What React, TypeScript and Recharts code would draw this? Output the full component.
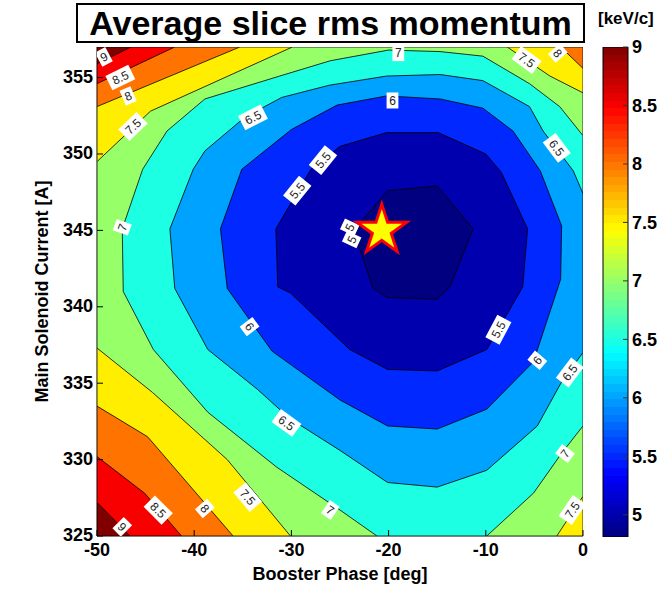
import React from 'react';
import { ComposedChart, Scatter, XAxis, YAxis, BarChart, Bar } from 'recharts';

const W = 666;
const H = 589;

const phaseRange = [-50, 0];
const currentRange = [325, 357];
const colorRange = [4.81, 9];

const phaseTicks = [-50, -40, -30, -20, -10, 0];
const currentTicks = [325, 330, 335, 340, 345, 350, 355];
const colorTicks = [5, 5.5, 6, 6.5, 7, 7.5, 8, 8.5, 9];

// contour levels, outermost first
const levels = [9, 8.5, 8, 7.5, 7, 6.5, 6, 5.5, 5];

// region below each level, [phase, current] vertices
const below9 = [[-50, 355.9], [-46.5, 357], [0, 357], [0, 325], [-46.6, 325], [-50, 327.2]];
const below85 = [[-50, 354.6], [-42, 357], [0, 357], [0, 325], [-41.3, 325], [-45.1, 327.8], [-50, 330.2]];
const below8 = [[-50, 353.1], [-35.3, 357], [-2.3, 357], [0, 355.6], [0, 325], [-36, 325], [-44.8, 331.5], [-50, 333.5]];
const below75 = [
  [-50, 349.5], [-44.5, 352.8], [-29.9, 357], [-7.8, 357], [-3.4, 355.1], [0, 354], [0, 327.6], [-2.7, 325],
  [-30.1, 325], [-36.6, 330], [-44.3, 334.4], [-50, 337.3],
];
const below7 = [
  [-21.2, 325], [-25, 326.7], [-31.5, 329.5], [-38.6, 333.1], [-44.2, 337.2], [-47.3, 341], [-47.4, 345.1],
  [-45.3, 349], [-42.8, 351.5], [-38.9, 353.6], [-31.2, 355.1], [-26, 356.1], [-20, 356.8], [-14.7, 356.7],
  [-10.3, 356.4], [-5.5, 354.6], [-2.4, 353.1], [0, 351.2], [0, 332.2], [-2.1, 330.5], [-5.1, 327.8], [-9.9, 325],
];
const below65 = [
  [0, 347.4], [-1, 348.9], [-4.1, 351.5], [-5.5, 353.1], [-10.3, 354.8], [-14.7, 355.2], [-20.2, 355.1],
  [-26.1, 354.5], [-31, 353.7], [-34.8, 352.4], [-38.9, 350.2], [-40.1, 349], [-42.5, 345.1], [-42, 341.2],
  [-38.6, 337.2], [-33.5, 334.6], [-30.2, 332.7], [-25, 330.6], [-20.1, 328.5], [-15, 328.2], [-9.9, 329.3],
  [-4.7, 332.2], [-2.1, 335.2], [0, 337],
];
const below6 = [
  [-35.1, 349], [-30, 351.6], [-25.3, 353.2], [-20.2, 353.8], [-14.7, 353.6], [-10.3, 353], [-7.2, 351.5],
  [-4.4, 348.9], [-2.2, 345.3], [-2.3, 341.8], [-5.1, 336.4], [-9.9, 333.3], [-15, 332], [-20.1, 332.2],
  [-25, 333.9], [-32, 337.1], [-36.6, 341.2], [-37.3, 345.1],
];
const below55 = [
  [-31.6, 345.1], [-28, 349], [-25, 350.5], [-20.2, 351.4], [-14.9, 351.4], [-10, 350], [-8.4, 348.8],
  [-5.7, 345.1], [-6.2, 341.3], [-9.9, 337.2], [-15, 335.8], [-20.1, 335.9], [-24, 337.2], [-30.1, 340.9],
  [-31.4, 341.3],
];
const below5 = [
  [-20.1, 347.6], [-15, 347.9], [-11.3, 345.1], [-13.7, 341.3], [-15, 340.5], [-20.1, 340.6], [-21.6, 341.2],
  [-23.6, 345],
];
const belowAreas = [below9, below85, below8, below75, below7, below65, below6, below55, below5];

// inline contour labels: [phase, current, level, angle]
const contourLabels = [
  [-49.3, 356.35, 9, -28], [-47.6, 355.0, 8.5, -26], [-46.8, 353.8, 8, -23], [-46.3, 351.8, 7.5, -44],
  [-33.95, 352.4, 6.5, -27], [-19.0, 356.6, 7, 0], [-19.6, 353.5, 6, 0], [-5.8, 356.15, 7.5, 36],
  [-2.6, 356.6, 8, 49], [-2.7, 350.4, 6.5, 53], [-26.75, 349.6, 5.5, -51], [-29.4, 347.6, 5.5, -51],
  [-24.0, 345.2, 5, -65], [-23.8, 344.4, 5, -65], [-47.4, 345.2, 7, -70], [-34.3, 338.7, 6, 53],
  [-30.5, 332.4, 6.5, 36], [-34.5, 327.55, 7.5, 50], [-38.9, 326.8, 8, 49], [-43.7, 326.7, 8.5, 45],
  [-47.4, 325.6, 9, 45], [-26.0, 326.7, 7, 34], [-8.7, 338.5, 5.5, -62], [-4.7, 336.5, 6, -50],
  [-1.35, 335.7, 6.5, -53], [-1.85, 330.4, 7, -53], [-1.1, 326.7, 7.5, -56],
];

// best working point
const optimum = [{ x: -20.7, y: 345.0 }];

const clamp01 = (v: number) => Math.max(0, Math.min(1, v));
const jet = (value: number) => {
  const t = clamp01((value - colorRange[0]) / (colorRange[1] - colorRange[0]));
  const r = clamp01(1.5 - Math.abs(4 * t - 3));
  const g = clamp01(1.5 - Math.abs(4 * t - 2));
  const b = clamp01(1.5 - Math.abs(4 * t - 1));
  return `rgb(${Math.round(r * 255)},${Math.round(g * 255)},${Math.round(b * 255)})`;
};

const font = "'Liberation Sans', Arial, Helvetica, sans-serif";
const tickStyle = { fontFamily: font, fontSize: 18, fontWeight: 700, fill: '#000' };

const toXY = (pts: number[][]) => pts.map(([x, y]) => ({ x, y }));
const plotFrame = toXY([[phaseRange[0], currentRange[0]], [phaseRange[0], currentRange[1]], [phaseRange[1], currentRange[1]], [phaseRange[1], currentRange[0]]]);

const fillArea = (color: string) => (props: any) => (
  <polygon
    points={props.points.map((p: any) => `${p.x},${p.y}`).join(' ')}
    fill={color}
    stroke="#000"
    strokeWidth={0.8}
    strokeLinejoin="round"
  />
);
const noDot = () => <g />;

const ContourLabel = (props: any) => {
  const { cx, cy, payload } = props;
  const text = String(payload.level);
  const w = text.length * 6.8 + 5;
  return (
    <g transform={`translate(${cx},${cy}) rotate(${payload.angle})`}>
      <rect x={-w / 2} y={-8} width={w} height={16} fill="#fff" />
      <text x={0} y={0} dy="0.36em" textAnchor="middle" fontSize={12} fontFamily={font} fill="#222">
        {text}
      </text>
    </g>
  );
};

const Star = (props: any) => {
  const { cx, cy } = props;
  const R = 26;
  const r = R * 0.382;
  const pts = [];
  for (let i = 0; i < 10; i++) {
    const a = -Math.PI / 2 + (i * Math.PI) / 5;
    const rad = i % 2 === 0 ? R : r;
    pts.push(`${cx + rad * Math.cos(a)},${cy + rad * Math.sin(a)}`);
  }
  return <polygon points={pts.join(' ')} fill="#ffff00" stroke="#ff0000" strokeWidth={3} strokeLinejoin="miter" />;
};

const BottomTick = ({ x, y, payload }: any) => (
  <g>
    <line x1={x} y1={y} x2={x} y2={y - 6} stroke="#000" />
    <text x={x} y={y + 20} textAnchor="middle" style={tickStyle}>{payload.value}</text>
  </g>
);
const TopTick = ({ x, y }: any) => <line x1={x} y1={y} x2={x} y2={y + 6} stroke="#000" />;
const LeftTick = ({ x, y, payload }: any) => (
  <g>
    <line x1={x} y1={y} x2={x + 6} y2={y} stroke="#000" />
    <text x={x - 4} y={y} dy="0.3em" textAnchor="end" style={tickStyle}>{payload.value}</text>
  </g>
);
const RightTick = ({ x, y }: any) => <line x1={x} y1={y} x2={x - 6} y2={y} stroke="#000" />;

const BarRightTick = ({ x, y, payload }: any) => (
  <g>
    <line x1={x} y1={y} x2={x - 5} y2={y} stroke="#333" />
    <text x={x + 4} y={y} dy="0.36em" textAnchor="start" style={tickStyle}>{payload.value}</text>
  </g>
);
const BarLeftTick = ({ x, y }: any) => <line x1={x} y1={y} x2={x + 5} y2={y} stroke="#333" />;

const colorBar = [{ name: 'scale', span: colorRange }];
const STEPS = 64;
const jetStops = Array.from({ length: STEPS }, (_, i) => {
  const c = jet(colorRange[0] + ((i + 0.5) / STEPS) * (colorRange[1] - colorRange[0]));
  return [
    <stop key={`a${i}`} offset={`${(i / STEPS) * 100}%`} stopColor={c} />,
    <stop key={`b${i}`} offset={`${((i + 1) / STEPS) * 100}%`} stopColor={c} />,
  ];
}).flat();

export default function App() {
  return (
    <div style={{ position: 'absolute', left: 0, top: 0, width: W, height: H, background: '#fff', fontFamily: font }}>
      <div style={{ position: 'absolute', left: 0, top: 0 }}>
        <ComposedChart width={W} height={H} margin={{ top: 47, right: 83, bottom: 3, left: 37 }}>
          <XAxis
            xAxisId={0}
            type="number"
            dataKey="x"
            domain={phaseRange}
            ticks={phaseTicks}
            allowDataOverflow
            height={50}
            tickSize={0}
            tickMargin={0}
            tick={BottomTick}
            axisLine={{ stroke: '#000' }}
            label={{ value: 'Booster Phase [deg]', position: 'insideBottom', offset: 6, fill: '#000', style: { ...tickStyle } }}
          />
          <XAxis
            xAxisId="top"
            orientation="top"
            type="number"
            dataKey="x"
            domain={phaseRange}
            ticks={phaseTicks}
            allowDataOverflow
            height={0}
            tickSize={0}
            tickMargin={0}
            tick={TopTick}
            axisLine={{ stroke: '#000' }}
          />
          <YAxis
            yAxisId={0}
            type="number"
            dataKey="y"
            domain={currentRange}
            ticks={currentTicks}
            allowDataOverflow
            width={60}
            tickSize={0}
            tickMargin={0}
            tick={LeftTick}
            axisLine={{ stroke: '#000' }}
            label={{
              value: 'Main Solenoid Current [A]',
              angle: -90,
              position: 'insideLeft',
              offset: 5,
              fill: '#000',
              style: { ...tickStyle, textAnchor: 'middle' },
            }}
          />
          <YAxis
            yAxisId="right"
            orientation="right"
            type="number"
            dataKey="y"
            domain={currentRange}
            ticks={currentTicks}
            allowDataOverflow
            width={0}
            tickSize={0}
            tickMargin={0}
            tick={RightTick}
            axisLine={{ stroke: '#000' }}
          />
          <Scatter data={plotFrame} line={fillArea(jet(levels[0]))} shape={noDot} isAnimationActive={false} />
          {belowAreas.map((area, i) => (
            <Scatter
              key={levels[i]}
              name={`below ${levels[i]}`}
              data={toXY(area)}
              line={fillArea(jet(levels[i] - 0.5))}
              shape={noDot}
              isAnimationActive={false}
            />
          ))}
          <Scatter
            data={contourLabels.map(([x, y, level, angle]) => ({ x, y, level, angle }))}
            shape={ContourLabel}
            isAnimationActive={false}
          />
          <Scatter data={optimum} shape={Star} isAnimationActive={false} />
        </ComposedChart>
      </div>

      <div style={{ position: 'absolute', left: 0, top: 0 }}>
        <BarChart width={W} height={H} data={colorBar} margin={{ top: 47, right: 0, bottom: 52, left: 603 }} barCategoryGap={0}>
          <defs>
            <linearGradient id="jetScale" x1="0" y1="1" x2="0" y2="0">
              {jetStops}
            </linearGradient>
          </defs>
          <XAxis dataKey="name" hide />
          <YAxis
            orientation="right"
            type="number"
            domain={colorRange}
            ticks={colorTicks}
            allowDataOverflow
            width={38}
            tickSize={0}
            tickMargin={0}
            tick={BarRightTick}
            axisLine={false}
          />
          <YAxis
            yAxisId="inner"
            orientation="left"
            type="number"
            domain={colorRange}
            ticks={colorTicks}
            allowDataOverflow
            width={0}
            tickSize={0}
            tickMargin={0}
            tick={BarLeftTick}
            axisLine={false}
          />
          <Bar dataKey="span" fill="url(#jetScale)" stroke="#000" strokeWidth={1} isAnimationActive={false} />
        </BarChart>
      </div>

      <div
        style={{
          position: 'absolute',
          left: 76,
          top: 3,
          width: 509,
          height: 40,
          boxSizing: 'border-box',
          border: '2px solid #000',
          background: '#fff',
          fontWeight: 700,
          fontSize: 34,
          lineHeight: '36px',
          textAlign: 'center',
          color: '#000',
        }}
      >
        Average slice rms momentum
      </div>
      <div style={{ position: 'absolute', left: 598, top: 9, fontWeight: 700, fontSize: 17, color: '#000' }}>[keV/c]</div>
    </div>
  );
}
